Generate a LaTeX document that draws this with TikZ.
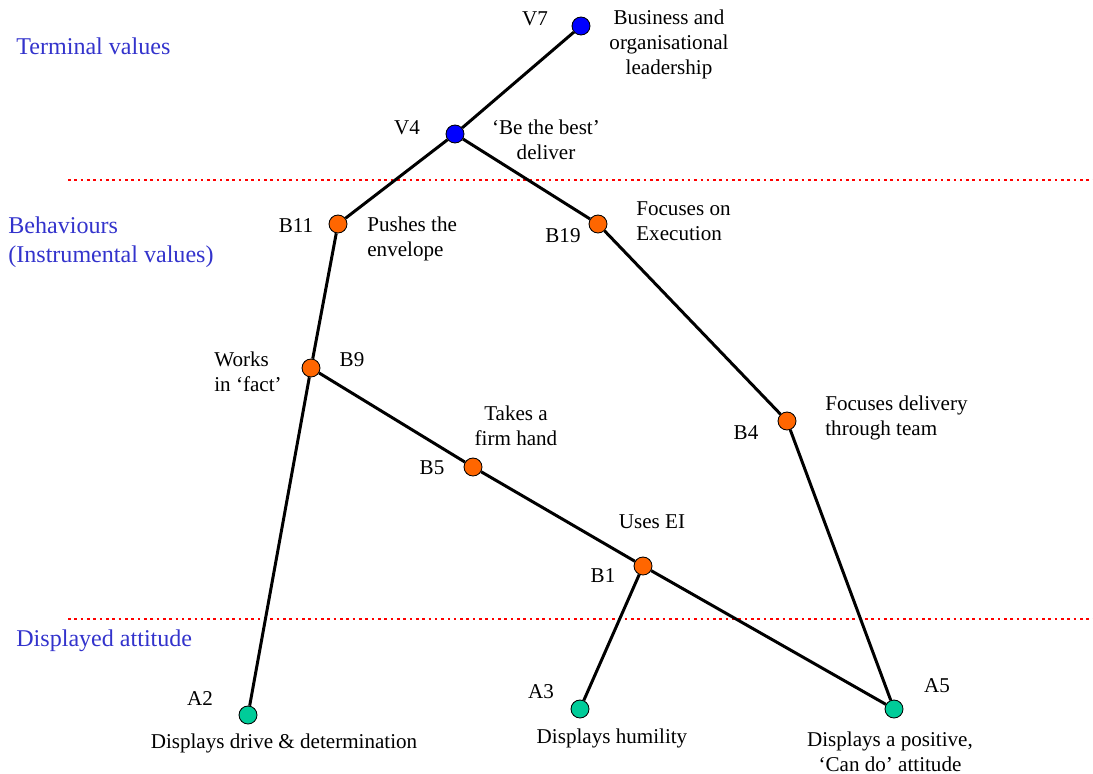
\documentclass[tikz,border=0pt]{standalone}
\usepackage{fontspec}
\setmainfont{Liberation Serif}
\usepackage{tikz}
\usetikzlibrary{positioning}
\definecolor{valblue}{RGB}{0,0,255}
\definecolor{behorange}{RGB}{255,102,0}
\definecolor{attgreen}{RGB}{0,204,153}
\definecolor{bandblue}{RGB}{51,51,204}
\definecolor{bandred}{RGB}{255,0,0}
\tikzset{
  vnode/.style={circle, draw=black, fill=valblue, minimum size=0.36cm,
    inner sep=0pt, line width=0.5pt},
  bnode/.style={circle, draw=black, fill=behorange, minimum size=0.36cm,
    inner sep=0pt, line width=0.5pt},
  anode/.style={circle, draw=black, fill=attgreen, minimum size=0.36cm,
    inner sep=0pt, line width=0.5pt},
  tag/.style={inner sep=0pt, font=\fontsize{12}{14.2}\selectfont},
  note/.style={inner sep=0pt, align=center, font=\fontsize{12}{14.2}\selectfont},
  lnote/.style={inner sep=0pt, align=left, anchor=west, font=\fontsize{12}{14.2}\selectfont},
  band/.style={inner sep=0pt, align=left, anchor=west, text=bandblue,
    font=\fontsize{13.7}{16.5}\selectfont},
  divider/.style={draw=bandred, line width=1.5pt, dash pattern=on 1.5pt off 2.1pt},
  edge/.style={line width=1.7pt, color=black}
}

\begin{document}
\begin{tikzpicture}[x=0.02cm, y=-0.02cm]
  \useasboundingbox (0,0) rectangle (1093,774);

  % Level bands
  \coordinate (d1l) at (68,180);
  \coordinate (d1r) at (1093,180);
  \coordinate (d2l) at (68,619);
  \coordinate (d2r) at (1093,619);
  \draw[divider] (d1l) -- (d1r);
  \draw[divider] (d2l) -- (d2r);

  \node[band] (terminal) at (16,46) {Terminal values};
  \node[band] (behaviours) at (8,242) {Behaviours\\(Instrumental values)};
  \node[band] (displayed) at (16,641) {Displayed attitude};

  % Values
  \node[vnode] (v7) at (581,26) {};
  \node[vnode] (v4) at (455,134) {};

  % Behaviours
  \node[bnode] (b11) at (338,224) {};
  \node[bnode] (b19) at (598,224) {};
  \node[bnode] (b9) at (311,368) {};
  \node[bnode] (b5) at (473,467) {};
  \node[bnode] (b4) at (787,421) {};
  \node[bnode] (b1) at (643,566) {};

  % Attitudes
  \node[anode] (a2) at (248,715) {};
  \node[anode] (a3) at (580,709) {};
  \node[anode] (a5) at (894,709) {};

  % Links
  \draw[edge] (v7) -- (v4);
  \draw[edge] (v4) -- (b11);
  \draw[edge] (v4) -- (b19);
  \draw[edge] (b11) -- (b9);
  \draw[edge] (b9) -- (a2);
  \draw[edge] (b9) -- (b5);
  \draw[edge] (b5) -- (b1);
  \draw[edge] (b1) -- (a3);
  \draw[edge] (b1) -- (a5);
  \draw[edge] (b19) -- (b4);
  \draw[edge] (b4) -- (a5);

  % Codes and descriptions
  \node[tag] (v7code) at (535,19) {V7};
  \node[note] (v7text) at (669,44) {Business and\\organisational\\leadership};
  \node[tag] (v4code) at (407,128) {V4};
  \node[note] (v4text) at (546,140) {‘Be the best’\\deliver};

  \node[tag] (b11code) at (296,226) {B11};
  \node[lnote] (b11text) at (367,239) {Pushes the\\envelope};
  \node[tag] (b19code) at (563,236) {B19};
  \node[lnote] (b19text) at (636,221) {Focuses on\\Execution};
  \node[lnote] (b9text) at (214,372) {Works\\in ‘fact’};
  \node[tag] (b9code) at (352,360) {B9};
  \node[note] (b5text) at (516,426) {Takes a\\firm hand};
  \node[tag] (b5code) at (432,468) {B5};
  \node[tag] (b4code) at (746,433) {B4};
  \node[lnote] (b4text) at (825,418) {Focuses delivery\\through team};
  \node[note] (b1text) at (652,522) {Uses EI};
  \node[tag] (b1code) at (603,576) {B1};

  \node[tag] (a2code) at (200,699) {A2};
  \node[note] (a2text) at (284,743) {Displays drive \& determination};
  \node[tag] (a3code) at (541,692) {A3};
  \node[note] (a3text) at (612,738) {Displays humility};
  \node[tag] (a5code) at (937,686) {A5};
  \node[note] (a5text) at (890,752) {Displays a positive,\\‘Can do’ attitude};
\end{tikzpicture}
\end{document}
